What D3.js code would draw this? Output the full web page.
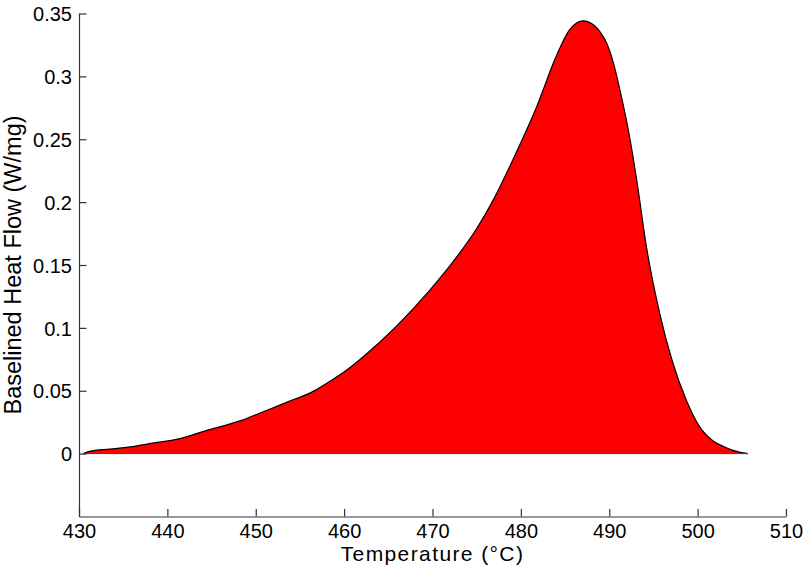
<!DOCTYPE html>
<html>
<head>
<meta charset="utf-8">
<script src="https://cdn.jsdelivr.net/npm/d3@7"></script>
<style>
  html, body { margin: 0; padding: 0; background: #fff; }
  svg { display: block; font-family: "Liberation Sans", Arial, sans-serif; }
</style>
</head>
<body>
<svg id="chart" width="805" height="570"></svg>
<script>
// DSC exotherm, baseline-subtracted heat flow vs temperature
const temperature = [430.5, 431.2, 433.5, 435.8, 438.5, 441.4, 444.4, 448.2, 450.5, 453.5,
  456.5, 458.5, 460.3, 462.2, 465.9, 469.7, 472.7, 475.0, 476.9, 479.1,
  481.8, 484.0, 485.5, 486.3, 487.05, 488.2, 489.0, 489.7, 490.5, 491.2,
  492.3, 493.1, 494.2, 495.7, 497.2, 498.7, 500.2, 501.8, 503.0, 504.0, 505.7];
const heatFlow = [0, 0.0018, 0.0036, 0.0053, 0.0085, 0.0119, 0.0183, 0.026, 0.0323, 0.0408,
  0.0495, 0.0580, 0.0665, 0.0773, 0.1012, 0.130, 0.156, 0.179, 0.202, 0.2337,
  0.276, 0.316, 0.337, 0.3425, 0.3442, 0.341, 0.335, 0.3265, 0.31, 0.2894,
  0.252, 0.218, 0.1648, 0.1118, 0.0721, 0.0429, 0.0217, 0.0098, 0.0055, 0.0026, 0];
const xTicks = [430, 440, 450, 460, 470, 480, 490, 500, 510];
const yTicks = [0, 0.05, 0.1, 0.15, 0.2, 0.25, 0.3, 0.35];
const xDomain = [430, 510];
const yDomain = [-0.05, 0.35];

const svg = d3.select("#chart");
const plotLeft = 79, plotRight = 786, plotTop = 13.5, plotBottom = 516.5;

const x = d3.scaleLinear().domain(xDomain).range([plotLeft, plotRight]);
const y = d3.scaleLinear().domain(yDomain).range([plotBottom, plotTop]);

const points = temperature.map((t, i) => ({ t, v: heatFlow[i] }));

// filled area between the curve and zero
const area = d3.area()
  .x(d => x(d.t))
  .y0(y(0))
  .y1(d => y(d.v))
  .curve(d3.curveMonotoneX);

svg.append("path")
  .datum(points)
  .attr("d", area)
  .attr("fill", "#ff0000")
  .attr("stroke", "none");

// outline of the peak
const line = d3.line()
  .x(d => x(d.t))
  .y(d => y(d.v))
  .curve(d3.curveMonotoneX);

svg.append("path")
  .datum(points)
  .attr("d", line)
  .attr("fill", "none")
  .attr("stroke", "#000")
  .attr("stroke-width", 1.2);

// zero line under the peak
svg.append("line")
  .attr("x1", x(temperature[0])).attr("x2", x(temperature[temperature.length - 1]))
  .attr("y1", y(0)).attr("y2", y(0))
  .attr("stroke", "#444").attr("stroke-width", 1);

// axes with inward ticks
const tickLen = 7.5;
const xAxis = d3.axisBottom(x).tickValues(xTicks).tickSizeInner(-tickLen).tickSizeOuter(0)
  .tickPadding(7).tickFormat(d3.format("d"));
const yAxis = d3.axisLeft(y).tickValues(yTicks).tickSizeInner(-tickLen).tickSizeOuter(0)
  .tickPadding(7).tickFormat(d => d === 0 ? "0" : String(+d.toFixed(2)));

const gx = svg.append("g").attr("transform", `translate(0,${plotBottom})`).call(xAxis);
const gy = svg.append("g").attr("transform", `translate(${plotLeft},0)`).call(yAxis);

[gx, gy].forEach(g => {
  g.select(".domain").attr("stroke", "#333").attr("stroke-width", 1.2);
  g.selectAll(".tick line").attr("stroke", "#333").attr("stroke-width", 1.2);
  g.selectAll(".tick text")
    .attr("fill", "#000")
    .style("font-family", "Liberation Sans, Arial, sans-serif")
    .style("font-size", "20px");
});
gx.selectAll(".tick text").attr("dy", "0.71em");
gy.selectAll(".tick text").attr("dy", "0.36em");

// axis titles
svg.append("text")
  .attr("x", (plotLeft + plotRight) / 2)
  .attr("y", 561)
  .attr("text-anchor", "middle")
  .style("font-size", "21px")
  .style("letter-spacing", "1.4px")
  .attr("fill", "#000")
  .text("Temperature (°C)");

svg.append("text")
  .attr("transform", `translate(20.5,${(plotTop + plotBottom) / 2}) rotate(-90)`)
  .attr("text-anchor", "middle")
  .style("font-size", "23.5px")
  .attr("fill", "#000")
  .text("Baselined Heat Flow (W/mg)");
</script>
</body>
</html>
